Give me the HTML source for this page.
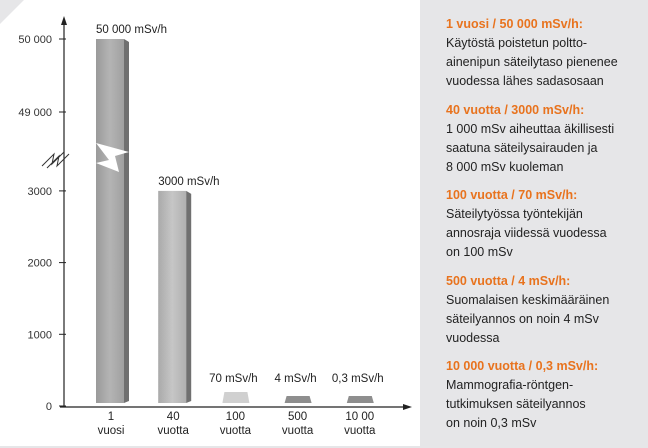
<!DOCTYPE html>
<html><head><meta charset="utf-8"><style>
body{margin:0;width:648px;height:448px;background:#e6e6e8;overflow:hidden;font-family:"Liberation Sans",sans-serif}
#wrap{position:relative;width:648px;height:448px}
.t{position:absolute;left:446px;font-size:12.5px;color:#222;line-height:19px}
.h{color:#e8731e;font-weight:bold}
</style></head><body>
<div id="wrap">
<svg id="chart" width="648" height="448" style="position:absolute;left:0;top:0">
<defs>
<linearGradient id="g1" x1="0" x2="1"><stop offset="0" stop-color="#9a9a9a"/><stop offset="0.5" stop-color="#b4b4b4"/><stop offset="1" stop-color="#a0a0a0"/></linearGradient>
<linearGradient id="g2" x1="0" x2="1"><stop offset="0" stop-color="#aaa"/><stop offset="0.5" stop-color="#c6c6c6"/><stop offset="1" stop-color="#b0b0b0"/></linearGradient>
</defs>
<polygon points="24,0 420,0 420,446 0,446 0,24" fill="#fff"/>
<g id="axes"></g><g id="bars"></g>
</svg>
<div class="t" style="top:15px"><span class="h">1 vuosi / 50 000 mSv/h:</span><br>Käytöstä poistetun poltto-<br>ainenipun säteilytaso pienenee<br>vuodessa lähes sadasosaan</div>
<div class="t" style="top:101px"><span class="h">40 vuotta / 3000 mSv/h:</span><br>1 000 mSv aiheuttaa äkillisesti<br>saatuna säteilysairauden ja<br>8 000 mSv kuoleman</div>
<div class="t" style="top:186px"><span class="h">100 vuotta / 70 mSv/h:</span><br>Säteilytyössa työntekijän<br>annosraja viidessä vuodessa<br>on 100 mSv</div>
<div class="t" style="top:272px"><span class="h">500 vuotta / 4 mSv/h:</span><br>Suomalaisen keskimääräinen<br>säteilyannos on noin 4 mSv<br>vuodessa</div>
<div class="t" style="top:357px"><span class="h">10 000 vuotta / 0,3 mSv/h:</span><br>Mammografia-röntgen-<br>tutkimuksen säteilyannos<br>on noin 0,3 mSv</div>
</div>
<script>
const categories=["1|vuosi","40|vuotta","100|vuotta","500|vuotta","10 00|vuotta"];
const values=[50000,3000,70,4,0.3];
const valueLabels=["50 000 mSv/h","3000 mSv/h","70 mSv/h","4 mSv/h","0,3 mSv/h"];
const lowTicks=[0,1000,2000,3000];
const lowTickLabels=["0","1000","2000","3000"];
const highTicks=[49000,50000];
const highTickLabels=["49 000","50 000"];
const NS="http://www.w3.org/2000/svg";
function y(v){ if(v<=3500) return 406-v*0.0717; return 39+(50000-v)*0.073; }
function x(i){ return 111+i*62.2; }
function mk(p,tag,a,txt){const e=document.createElementNS(NS,tag);for(const k in a)e.setAttribute(k,a[k]);if(txt!==undefined)e.textContent=txt;p.appendChild(e);return e;}
const ax=document.getElementById('axes'), bs=document.getElementById('bars');
let l=mk(ax,'line',{x1:64,y1:407,x2:64,y2:22,stroke:'#222','stroke-width':1.2});

mk(ax,'polygon',{points:'64,16 61,25 67,25',fill:'#222'});
l=mk(ax,'line',{x1:60,y1:407,x2:405,y2:407,stroke:'#222','stroke-width':1.2});

mk(ax,'polygon',{points:'412,407 403,404 403,410',fill:'#222'});
mk(ax,'path',{d:'M42,166 L54,154 L52,164 L64,152 M47,168 L59,156 L57,166 L69,154',stroke:'#333',fill:'none','stroke-width':1});
const ticks=lowTicks.concat(highTicks), tl=lowTickLabels.concat(highTickLabels);
ticks.forEach((t,i)=>{const yy=y(t);
 mk(ax,'line',{x1:59,y1:yy,x2:66,y2:yy,stroke:'#222'});
 const e=mk(ax,'text',{x:52,y:yy+4,'text-anchor':'end','font-size':11,fill:'#333'},tl[i]);
 });
values.forEach((v,i)=>{const cx=x(i);const top=y(v);const base=403;
 const g=mk(bs,'g',{});
 if(v>=1000){const w=28;
  mk(g,'rect',{x:cx-w/2-1,y:top,width:w,height:base-top,fill:i==0?'url(#g1)':'url(#g2)'});
  mk(g,'polygon',{points:`${cx+w/2-1},${top} ${cx+w/2+4},${top+3} ${cx+w/2+4},${base-2} ${cx+w/2-1},${base}`,fill:'#707070'});
  if(i==0) mk(g,'polygon',{points:`${cx-w/2-1},${143} ${cx+w/2+4},${152} ${cx+4},${156} ${cx+8},${172} ${cx-w/2-1},${163} ${cx-2},${160}`,fill:'#fff'});
 }else{const h=Math.max(base-top,i==2?11:7);
  mk(g,'polygon',{points:`${cx-13},${base} ${cx+14},${base} ${cx+12},${base-h} ${cx-11},${base-h}`,fill:i==2?'#d0d0d0':'#8e8e8e'});}
 const t=mk(bs,'text',{x:i<2?cx-15:cx-2,y:(v>=1000?top:388)-6,'text-anchor':i<2?'start':'middle','font-size':11.5,fill:'#222'},valueLabels[i]);
 
 const p=categories[i].split('|');
 p.forEach((s,j)=>{const e=mk(bs,'text',{x:cx,y:420+j*14,'text-anchor':'middle','font-size':11.5,fill:'#222'},s);
  });
});
</script>
</body></html>
